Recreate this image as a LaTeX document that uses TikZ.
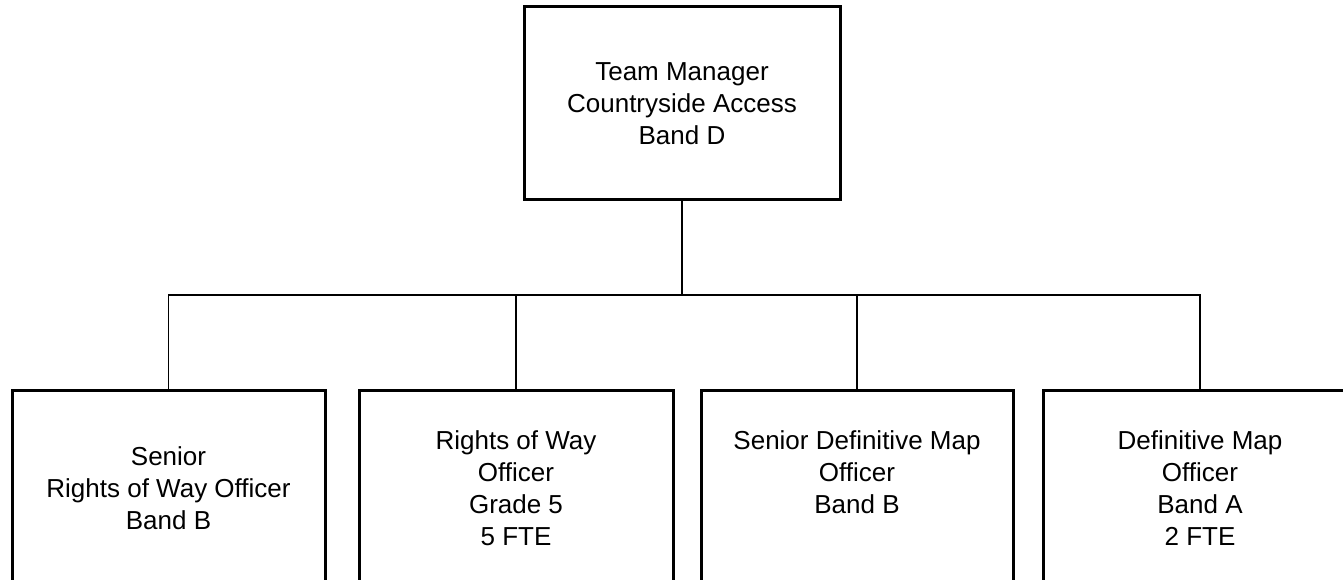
\documentclass[tikz,border=0pt]{standalone}
\usepackage{fontspec}
\setmainfont{Liberation Sans}
\tikzset{
  orgbox/.style={draw=black, line width=3pt, fill=white, rectangle, outer sep=0pt, inner sep=0pt},
  orgtext/.style={align=center, inner sep=0pt, font=\fontsize{26}{32}\selectfont},
  conn/.style={draw=black, line width=1.4pt}
}
\begin{document}
\begin{tikzpicture}[x=1pt,y=-1pt]
\useasboundingbox (0,0) rectangle (1343,580);
\clip (0,0) rectangle (1343,580);
\fill[white] (0,0) rectangle (1343,580);
% boxes
\node[orgbox, minimum width=316pt, minimum height=193pt, orgtext] (top) at (682,103.5)
  {Team Manager\\Countryside Access\\Band D};
\node[orgbox, minimum width=313pt, minimum height=230pt] (b1) at (168.5,505) {};
\node[orgbox, minimum width=314pt, minimum height=230pt] (b2) at (516,505) {};
\node[orgbox, minimum width=312pt, minimum height=230pt] (b3) at (857,505) {};
\node[orgbox, minimum width=314pt, minimum height=230pt] (b4) at (1200,505) {};
% texts
\node[orgtext] (t1) at (168.5,488) {Senior\\Rights of Way Officer\\Band B};
\node[orgtext] (t2) at (516,488) {Rights of Way\\Officer\\Grade 5\\5 FTE};
\node[orgtext] (t3) at (857,472) {Senior Definitive Map\\Officer\\Band B};
\node[orgtext] (t4) at (1200,488) {Definitive Map\\Officer\\Band A\\2 FTE};
% connectors
\coordinate (bus) at (682,295);
\draw[conn] (top.south) -- (bus);
\draw[conn] (b1.north) |- (bus);
\draw[conn] (b2.north) |- (bus);
\draw[conn] (b3.north) |- (bus);
\draw[conn] (b4.north) |- (bus);
\end{tikzpicture}
\end{document}
